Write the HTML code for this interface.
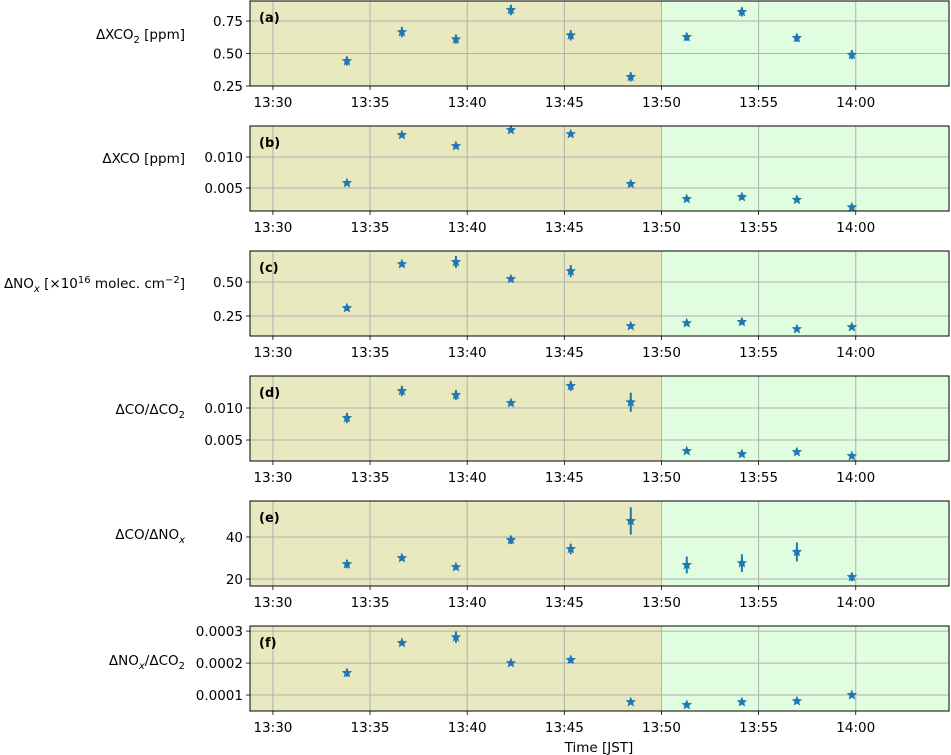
<!DOCTYPE html>
<html><head><meta charset="utf-8"><style>
body{margin:0;background:#fff;}
svg{display:block;font-family:"DejaVu Sans","Liberation Sans",sans-serif;}
</style></head><body>
<svg id="fig" width="951" height="755" viewBox="0 0 951 755"></svg>
<script>
const times = [3.81, 6.64, 9.42, 12.25, 15.33, 18.42, 21.3, 24.14, 26.97, 29.8];
const xTickLabels = ["13:30","13:35","13:40","13:45","13:50","13:55","14:00"];
const valsA = [0.442,0.665,0.61,0.835,0.64,0.32,0.627,0.82,0.62,0.49];
const errA  = [0.035,0.04,0.035,0.04,0.04,0.035,0.03,0.035,0.03,0.035];
const valsB = [0.0058,0.01355,0.01177,0.01435,0.0137,0.00565,0.00323,0.00355,0.0031,0.0019];
const errB  = [0.0003,0.0003,0.0003,0.0003,0.0003,0.0003,0.0003,0.0003,0.0003,0.0003];
const valsC = [0.309,0.632,0.647,0.522,0.58,0.176,0.198,0.206,0.154,0.169];
const errC  = [0.02,0.02,0.045,0.02,0.045,0.015,0.015,0.02,0.012,0.012];
const valsD = [0.00844,0.01266,0.01203,0.01078,0.01344,0.0109,0.00328,0.00281,0.00312,0.0025];
const errD  = [0.0008,0.0008,0.0008,0.0004,0.0008,0.0015,0.0003,0.0003,0.0003,0.0003];
const valsE = [27.1,30,25.7,38.6,34.3,47.6,26.7,27.6,32.9,21];
const errE  = [2,1,1.2,2,2.5,6.5,4,4.2,4.5,2];
const valsF = [0.000169,0.000263,0.000281,0.0002,0.00021,0.000078,0.000069,0.000078,0.000081,0.0001];
const errF  = [0.000012,0.000008,0.000018,0.000005,0.00001,0.000005,0.000004,0.000005,0.000005,0.000005];
const ticksA=[0.25,0.5,0.75], tickLabA=["0.25","0.50","0.75"];
const ticksB=[0.005,0.01], tickLabB=["0.005","0.010"];
const ticksC=[0.25,0.5], tickLabC=["0.25","0.50"];
const ticksD=[0.005,0.01], tickLabD=["0.005","0.010"];
const ticksE=[20,40], tickLabE=["20","40"];
const ticksF=[0.0001,0.0002,0.0003], tickLabF=["0.0001","0.0002","0.0003"];

const NS="http://www.w3.org/2000/svg";
const svg=document.getElementById('fig');
function el(t,a,p){const e=document.createElementNS(NS,t);for(const k in a)e.setAttribute(k,a[k]);(p||svg).appendChild(e);return e;}
const X0=250,X1=949,TMIN=-1.18,TMAX=34.8;
const xs=t=>X0+(t-TMIN)/(TMAX-TMIN)*(X1-X0);
const panels=[
 {id:'a',top:1,bot:86,lo:0.25,hi:0.904,v:valsA,e:errA,t:ticksA,tl:tickLabA,lab:'ΔXCO<tspan font-size="10" dy="4">2</tspan><tspan dy="-4"> [ppm]</tspan>',ly:34},
 {id:'b',top:126,bot:211,lo:0.00129,hi:0.015,v:valsB,e:errB,t:ticksB,tl:tickLabB,lab:'ΔXCO [ppm]',ly:158},
 {id:'c',top:251,bot:336,lo:0.103,hi:0.728,v:valsC,e:errC,t:ticksC,tl:tickLabC,lab:'ΔNO<tspan font-size="10" dy="4" font-style="italic">x</tspan><tspan dy="-4"> [×10</tspan><tspan font-size="10" dy="-5">16</tspan><tspan dy="5"> molec. cm</tspan><tspan font-size="10" dy="-5">−2</tspan><tspan dy="5">]</tspan>',ly:283},
 {id:'d',top:376,bot:461,lo:0.00172,hi:0.015,v:valsD,e:errD,t:ticksD,tl:tickLabD,lab:'ΔCO/ΔCO<tspan font-size="10" dy="4">2</tspan>',ly:409},
 {id:'e',top:501,bot:586,lo:16.7,hi:57.1,v:valsE,e:errE,t:ticksE,tl:tickLabE,lab:'ΔCO/ΔNO<tspan font-size="10" dy="4" font-style="italic">x</tspan>',ly:534},
 {id:'f',top:626,bot:711,lo:0.00005,hi:0.000316,v:valsF,e:errF,t:ticksF,tl:tickLabF,lab:'ΔNO<tspan font-size="10" dy="4" font-style="italic">x</tspan><tspan dy="-4">/ΔCO</tspan><tspan font-size="10" dy="4">2</tspan>',ly:660}
];
function star(cx,cy,r){let p=[];for(let i=0;i<10;i++){const rr=i%2?r*0.45:r;const a=-Math.PI/2+i*Math.PI/5;p.push((cx+rr*Math.cos(a)).toFixed(1)+','+(cy+rr*Math.sin(a)).toFixed(1));}return p.join(' ');}
panels.forEach(P=>{
 const g=el('g',{});
 
 
 const ys=v=>P.bot-(v-P.lo)/(P.hi-P.lo)*(P.bot-P.top);
 const xm=xs(20);
 const b1=el('rect',{x:X0,y:P.top,width:xm-X0,height:P.bot-P.top,fill:'#e8e9bf'},g);
 
 const b2=el('rect',{x:xm,y:P.top,width:X1-xm,height:P.bot-P.top,fill:'#e0fde0'},g);
 
 xTickLabels.forEach((l,i)=>{const x=xs(i*5);
  el('line',{x1:x,x2:x,y1:P.top,y2:P.bot,stroke:'#b0b0b0','stroke-width':1},g);
  el('line',{x1:x,x2:x,y1:P.bot,y2:P.bot+4,stroke:'#000','stroke-width':0.8},g);
  const t=el('text',{x:x,y:P.bot+21,'text-anchor':'middle','font-size':13.5},g);t.textContent=l;
  });
 P.t.forEach((v,i)=>{const y=ys(v);
  el('line',{x1:X0,x2:X1,y1:y,y2:y,stroke:'#b0b0b0','stroke-width':1},g);
  el('line',{x1:X0-4,x2:X0,y1:y,y2:y,stroke:'#000','stroke-width':0.8},g);
  const t=el('text',{x:X0-7,y:y+5,'text-anchor':'end','font-size':13.5},g);t.textContent=P.tl[i];
  });
 P.v.forEach((v,i)=>{const x=xs(times[i]);
  const eb=el('line',{x1:x,x2:x,y1:ys(v-P.e[i]),y2:ys(v+P.e[i]),stroke:'#1f77b4','stroke-width':2},g);
  
  const m=el('polygon',{points:star(x,ys(v),5.5),fill:'#1f77b4'},g);
  });
 const fr=el('rect',{x:X0,y:P.top,width:X1-X0,height:P.bot-P.top,fill:'none',stroke:'#000','stroke-width':1},g);
 
 const pl=el('text',{x:259,y:P.top+21,'font-size':13,'font-weight':'bold'},g);pl.textContent='('+P.id+')';
 
 const yl=el('text',{x:185,y:P.ly+5,'text-anchor':'end','font-size':13.5},g);yl.innerHTML=P.lab;
 
});
const xt=el('text',{x:599,y:752,'text-anchor':'middle','font-size':13.5});xt.textContent='Time [JST]';


</script>
</body></html>
